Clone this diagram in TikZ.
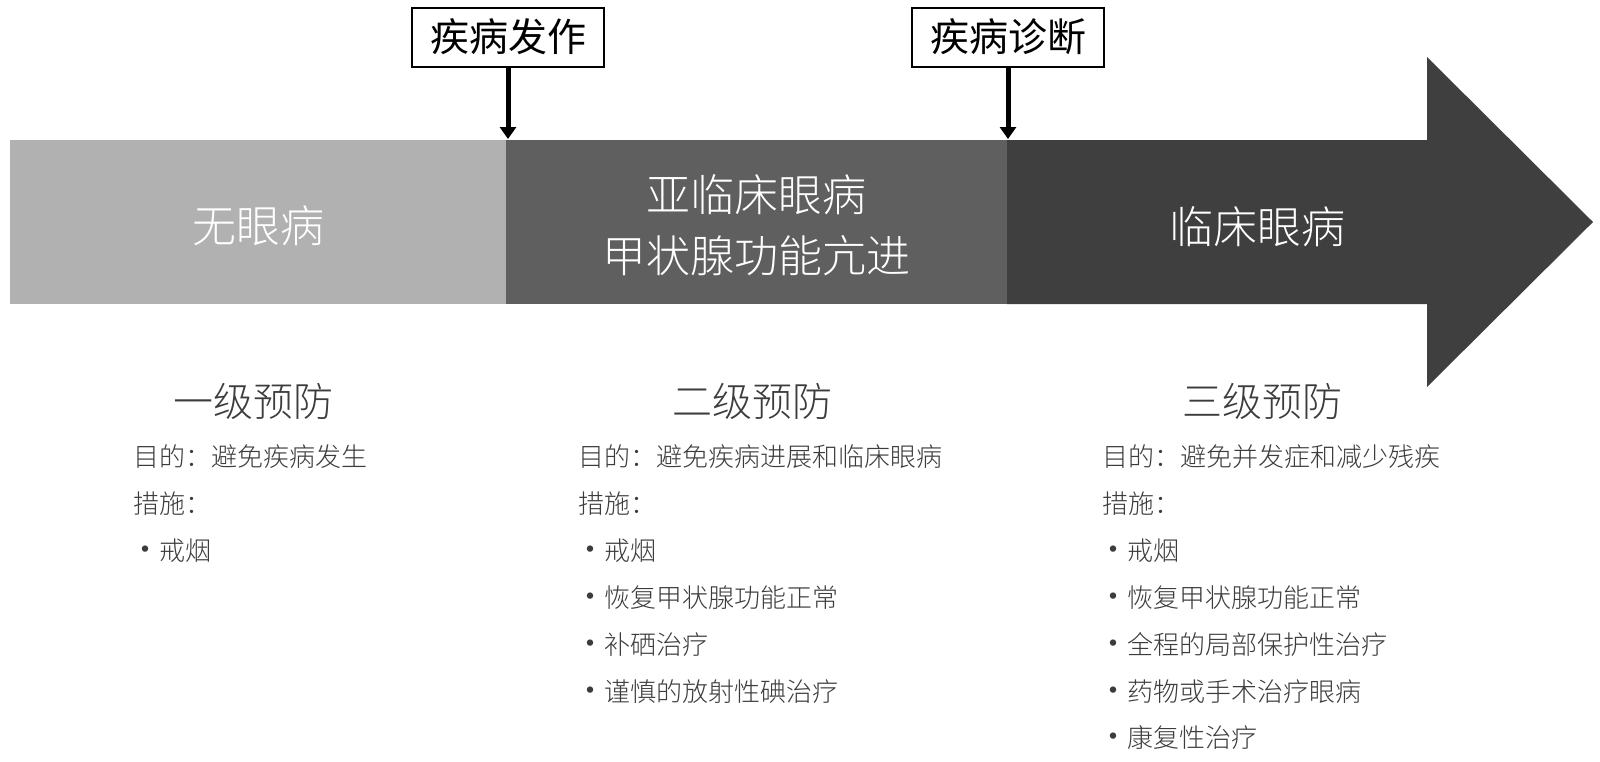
\documentclass[tikz,border=0pt]{standalone}
\usepackage{fontspec}
\IfFontExistsTF{Noto Sans CJK SC Light}
  {\setmainfont{Noto Sans CJK SC Light}}
  {\setmainfont{Noto Sans CJK SC}}
\newfontfamily\cjkreg{Noto Sans CJK SC}
\usetikzlibrary{arrows.meta}

\definecolor{stagelight}{HTML}{B1B1B1}
\definecolor{stagemid}{HTML}{5F5F5F}
\definecolor{stagedark}{HTML}{3F3F3F}
\definecolor{textgray}{HTML}{3C3C3C}

\newcommand\bul{\makebox[11pt][l]{\hspace{-3.5pt}{\cjkreg\fontsize{15}{15}\selectfont •}}}

\tikzset{
  stage/.style={text=white, align=center, font=\fontsize{22}{30.5}\selectfont},
  event/.style={draw, line width=1pt, minimum width=96pt, minimum height=29.5pt,
    inner sep=0pt, font=\cjkreg\fontsize{19.5}{22}\selectfont},
  level/.style={text=textgray, font=\fontsize{20}{24}\selectfont},
  item/.style={anchor=west, inner sep=0pt, text=textgray, font=\fontsize{13}{15}\selectfont},
}

\begin{document}
\begin{tikzpicture}
  [x=0.5pt, y=-0.5pt]
  \useasboundingbox (0,0) rectangle (1600,761);

  % time bar
  \fill[stagelight] (10,140) rectangle (506,304);
  \fill[stagemid] (506,140) rectangle (1007,304);
  \fill[stagedark] (1007,140) -- (1427,140) -- (1427,57) -- (1593,222)
    -- (1427,387) -- (1427,304) -- (1007,304) -- cycle;

  \node[stage] (none) at (258,226) {无眼病};
  \node[stage] (sub) at (756,225) {亚临床眼病\\甲状腺功能亢进};
  \node[stage] (clin) at (1257,227) {临床眼病};

  % events
  \node[event] (onset) at (508,37) {疾病发作};
  \node[event] (diag) at (1008,37) {疾病诊断};
  \coordinate (t1) at (508,139);
  \coordinate (t2) at (1008,139);

  \foreach \from/\to in {onset/t1,diag/t2}
  \draw[-{Triangle[length=6pt,width=8pt]}, line width=2.5pt] (\from) -- (\to);

  % prevention levels
  \node[level] (lv1) at (253,401) {一级预防};
  \node[level] (lv2) at (752,401) {二级预防};
  \node[level] (lv3) at (1262,401) {三级预防};

  \node[item] (aim1) at (133,457) {目的：避免疾病发生};
  \node[item] (aim2) at (578,457) {目的：避免疾病进展和临床眼病};
  \node[item] (aim3) at (1102,457) {目的：避免并发症和减少残疾};

  \node[item] (how1) at (133,504) {措施：};
  \node[item] (how2) at (578,504) {措施：};
  \node[item] (how3) at (1102,504) {措施：};

  \foreach \txt [count=\i] in {戒烟}
  \node[item] (m1\i) at (137,{504+46.8*\i}) {\bul\txt};
  \foreach \txt [count=\i] in {戒烟,恢复甲状腺功能正常,补硒治疗,谨慎的放射性碘治疗}
  \node[item] (m2\i) at (582,{504+46.8*\i}) {\bul\txt};
  \foreach \txt [count=\i] in {戒烟,恢复甲状腺功能正常,全程的局部保护性治疗,药物或手术治疗眼病,康复性治疗}
  \node[item] (m3\i) at (1105,{504+46.8*\i}) {\bul\txt};

\end{tikzpicture}
\end{document}
